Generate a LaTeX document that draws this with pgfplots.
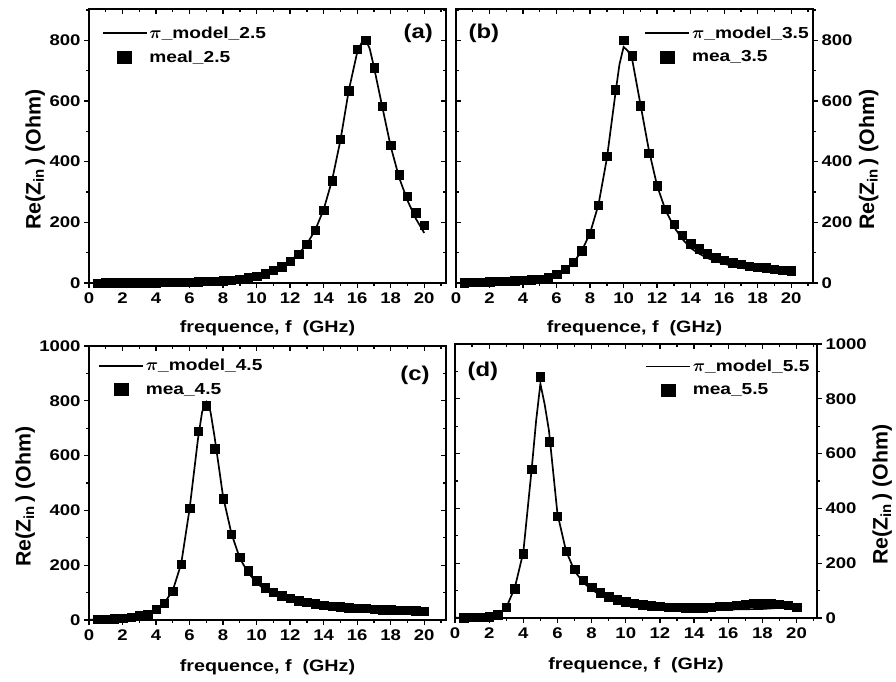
\documentclass[border=0pt]{standalone}
\usepackage{fontspec}
\setmainfont{Liberation Sans}[FakeStretch=1.2]
\newfontfamily\ylabfont{Liberation Sans}[FakeStretch=1.02]
\usepackage{pgfplots}
\pgfplotsset{compat=1.18}
\tikzset{plab/.style={font=\fontsize{20}{20}\selectfont\bfseries, anchor=center}}
\pgfplotsset{
  base/.style={scale only axis, width=357bp, height=274bp, xmin=0, xmax=21.3,
    xtick={0,2,...,20}, minor xtick={1,3,...,21},
    axis line style={line width=1.8bp}, every tick/.style={black, line width=1.3bp},
    major tick length=5bp, minor tick length=3bp},
  main/.style={base, tick align=outside, xtick pos=lower,
    tick label style={font=\fontsize{15.5}{15.5}\selectfont\bfseries},
    /pgf/number format/assume math mode=true, /pgf/number format/1000 sep={},
    xticklabel style={yshift=-1bp},
    every axis x label/.style={at={(axis description cs:0.5,-0.165)},anchor=center},
    xlabel={\fontsize{16.5}{16.5}\selectfont\bfseries frequence, f\ \ (GHz)},
    ylabel={\ylabfont\fontsize{21}{21}\selectfont\bfseries Re(Z\textsubscript{in}\,) (Ohm)},
    legend cell align=left,
    legend style={draw=none, fill=none, inner sep=0pt, row sep=7bp,
      font=\fontsize{16}{16}\selectfont\bfseries},
  },
  over/.style={base, tick align=inside, xticklabels={}, yticklabels={}, xtick pos=upper},
  lin/.style={black, line width=1.7bp, no marks,
    legend image code/.code={\draw[black, line width=1.7bp] (0bp,0bp) -- (44bp,0bp);}},
  mea/.style={black, only marks, mark=square*, mark size=4.2bp,
    legend image code/.code={\fill[black] (15bp,-6bp) rectangle (29bp,6bp);}},
}
\begin{document}
\begin{tikzpicture}[x=1bp,y=1bp]
\path[use as bounding box] (0,0) rectangle (896,682);
% ---------------- (a)
\begin{axis}[main, at={(89bp,399bp)}, ymin=0, ymax=903, ytick={0,200,...,800}, minor ytick={100,300,...,900},
  ytick pos=left,
  every axis y label/.style={at={(axis description cs:-0.151,0.45)}, anchor=center, rotate=90},
  legend style={at={(axis description cs:0.035,0.943)}, anchor=north west}]
\addplot[lin] coordinates {(0,0) (2,0.5) (4,1.5) (6,3.2) (7,5) (8,8) (9,13) (10,23) (10.5,30) (11,41) (11.5,54) (12,72) (12.5,96) (13,128) (13.5,175) (14,242) (14.5,338) (15,470) (15.5,635) (16,760) (16.25,790) (16.5,803) (16.75,772) (17,712) (17.5,580) (18,450) (18.5,348) (19,272) (19.5,212) (20,165)};
\addlegendentry{{\boldmath$\pi$}\_model\_2.5}
\addplot[mea] coordinates {(0.5,0.2) (1,0.3) (1.5,0.4) (2,0.6) (2.5,0.8) (3,1) (3.5,1.2) (4,1.5) (4.5,1.8) (5,2.2) (5.5,2.7) (6,3.3) (6.5,4) (7,5) (7.5,6) (8,8) (8.5,10) (9,13) (9.5,17) (10,23) (10.5,31) (11,42) (11.5,54) (12,72) (12.5,95) (13,128) (13.5,174) (14,240) (14.5,337) (15,473) (15.5,634) (16,770) (16.5,801) (17,710) (17.5,583) (18,454) (18.5,357) (19,287) (19.5,231) (20,190)};
\addlegendentry{meal\_2.5}
\node[plab] at (axis description cs:0.922,0.912) {(a)};
\end{axis}
\begin{axis}[over, at={(89bp,399bp)}, ymin=0, ymax=903, ytick={0,200,...,800}, minor ytick={100,300,...,900}, ytick pos=right]
\end{axis}
% ---------------- (b)
\begin{axis}[main, at={(456bp,399bp)}, ymin=0, ymax=903, ytick={0,200,...,800}, minor ytick={100,300,...,900},
  ytick pos=right,
  every axis y label/.style={at={(axis description cs:1.156,0.45)}, anchor=center, rotate=90},
  legend style={at={(axis description cs:0.994,0.943)}, anchor=north east}]
\addplot[lin] coordinates {(0,0) (2,3) (4,8) (5,13) (5.5,19) (6,28) (6.5,43) (7,67) (7.5,105) (8,165) (8.5,258) (9,410) (9.5,620) (9.75,720) (10,778) (10.25,765) (10.5,740) (11,590) (11.5,440) (12,320) (12.5,240) (13,185) (13.5,145) (14,115) (14.5,97) (15,82) (15.5,72) (16,63) (17,50) (18,42) (19,36) (20,31)};
\addlegendentry{{\boldmath$\pi$}\_model\_3.5}
\addplot[mea] coordinates {(0.5,1) (1,2) (1.5,3) (2,4) (2.5,5) (3,6) (3.5,7) (4,9) (4.5,11) (5,13) (5.5,20) (6,29) (6.5,46) (7,69) (7.5,106) (8,163) (8.5,257) (9,417) (9.5,637) (10,800) (10.5,749) (11,584) (11.5,428) (12,321) (12.5,244) (13,194) (13.5,158) (14,130) (14.5,113) (15,97) (15.5,83) (16,75) (16.5,67) (17,61) (17.5,56) (18,53) (18.5,50) (19,46) (19.5,43) (20,40)};
\addlegendentry{mea\_3.5}
\node[plab] at (axis description cs:0.078,0.912) {(b)};
\end{axis}
\begin{axis}[over, at={(456bp,399bp)}, ymin=0, ymax=903, ytick={0,200,...,800}, minor ytick={100,300,...,900}, ytick pos=left]
\end{axis}
% ---------------- (c)
\begin{axis}[main, at={(89bp,62bp)}, ymin=0, ymax=1000, ytick={0,200,...,1000}, minor ytick={100,300,...,900},
  ytick pos=left,
  every axis y label/.style={at={(axis description cs:-0.179,0.45)}, anchor=center, rotate=90},
  every axis x label/.style={at={(axis description cs:0.5,-0.172)},anchor=center},
  legend style={at={(axis description cs:0.025,0.96)}, anchor=north west}]
\addplot[lin] coordinates {(0,1) (1,3) (2,6) (3,14) (3.5,22) (4,38) (4.5,62) (5,108) (5.5,205) (6,405) (6.5,660) (6.75,760) (7,795) (7.25,760) (7.5,665) (8,450) (8.5,315) (9,225) (9.5,172) (10,136) (10.5,110) (11,92) (11.5,80) (12,71) (13,58) (14,50) (15,45) (16,41) (17,38) (18,35) (19,33) (20,31)};
\addlegendentry{{\boldmath$\pi$}\_model\_4.5}
\addplot[mea] coordinates {(0.5,3) (1,4) (1.5,5) (2,7) (2.5,10) (3,15) (3.5,22) (4,39) (4.5,61) (5,106) (5.5,204) (6,407) (6.5,690) (7,782) (7.5,625) (8,442) (8.5,314) (9,230) (9.5,180) (10,143) (10.5,118) (11,101) (11.5,89) (12,79) (12.5,71) (13,64) (13.5,59) (14,54) (14.5,50) (15,48) (15.5,45) (16,43) (16.5,42) (17,39) (17.5,38) (18,37) (18.5,35) (19,35) (19.5,34) (20,33)};
\addlegendentry{mea\_4.5}
\node[plab] at (axis description cs:0.913,0.894) {(c)};
\end{axis}
\begin{axis}[over, at={(89bp,62bp)}, ymin=0, ymax=1000, ytick={0,200,...,1000}, minor ytick={100,300,...,900}, ytick pos=right]
\end{axis}
% ---------------- (d)
\begin{axis}[main, at={(455bp,64bp)}, width=362bp, xmax=21.2, ymin=0, ymax=1000, ytick={0,200,...,1000}, minor ytick={100,300,...,900},
  ytick pos=right,
  every axis y label/.style={at={(axis description cs:1.18,0.45)}, anchor=center, rotate=90},
  every axis x label/.style={at={(axis description cs:0.5,-0.172)},anchor=center},
  legend style={at={(axis description cs:0.985,0.95)}, anchor=north east}]
\addplot[lin] coordinates {(0,1) (1,2) (2,5) (2.5,12) (3,38) (3.5,110) (4,240) (4.5,550) (4.75,720) (5,855) (5.25,780) (5.5,685) (6,380) (6.5,245) (7,172) (7.5,130) (8,104) (8.5,84) (9,70) (9.5,59) (10,51) (11,42) (12,37) (13,34) (14,32) (15,31) (16,31) (17,32) (18,33) (18.5,35) (19,37) (19.5,40) (20,42)};
\addlegendentry{{\boldmath$\pi$}\_model\_5.5}
\addplot[mea] coordinates {(0.5,1) (1,2) (1.5,3) (2,5) (2.5,12) (3,39) (3.5,107) (4,235) (4.5,542) (5,880) (5.5,643) (6,371) (6.5,243) (7,178) (7.5,137) (8,113) (8.5,92) (9,77) (9.5,67) (10,59) (10.5,53) (11,49) (11.5,45) (12,43) (12.5,40) (13,39) (13.5,38) (14,38) (14.5,38) (15,39) (15.5,42) (16,43) (16.5,47) (17,49) (17.5,53) (18,55) (18.5,55) (19,51) (19.5,47) (20,40)};
\addlegendentry{mea\_5.5}
\node[plab] at (axis description cs:0.077,0.90) {(d)};
\end{axis}
\begin{axis}[over, at={(455bp,64bp)}, width=362bp, xmax=21.2, ymin=0, ymax=1000, ytick={0,200,...,1000}, minor ytick={100,300,...,900}, ytick pos=left]
\end{axis}
\end{tikzpicture}
\end{document}
